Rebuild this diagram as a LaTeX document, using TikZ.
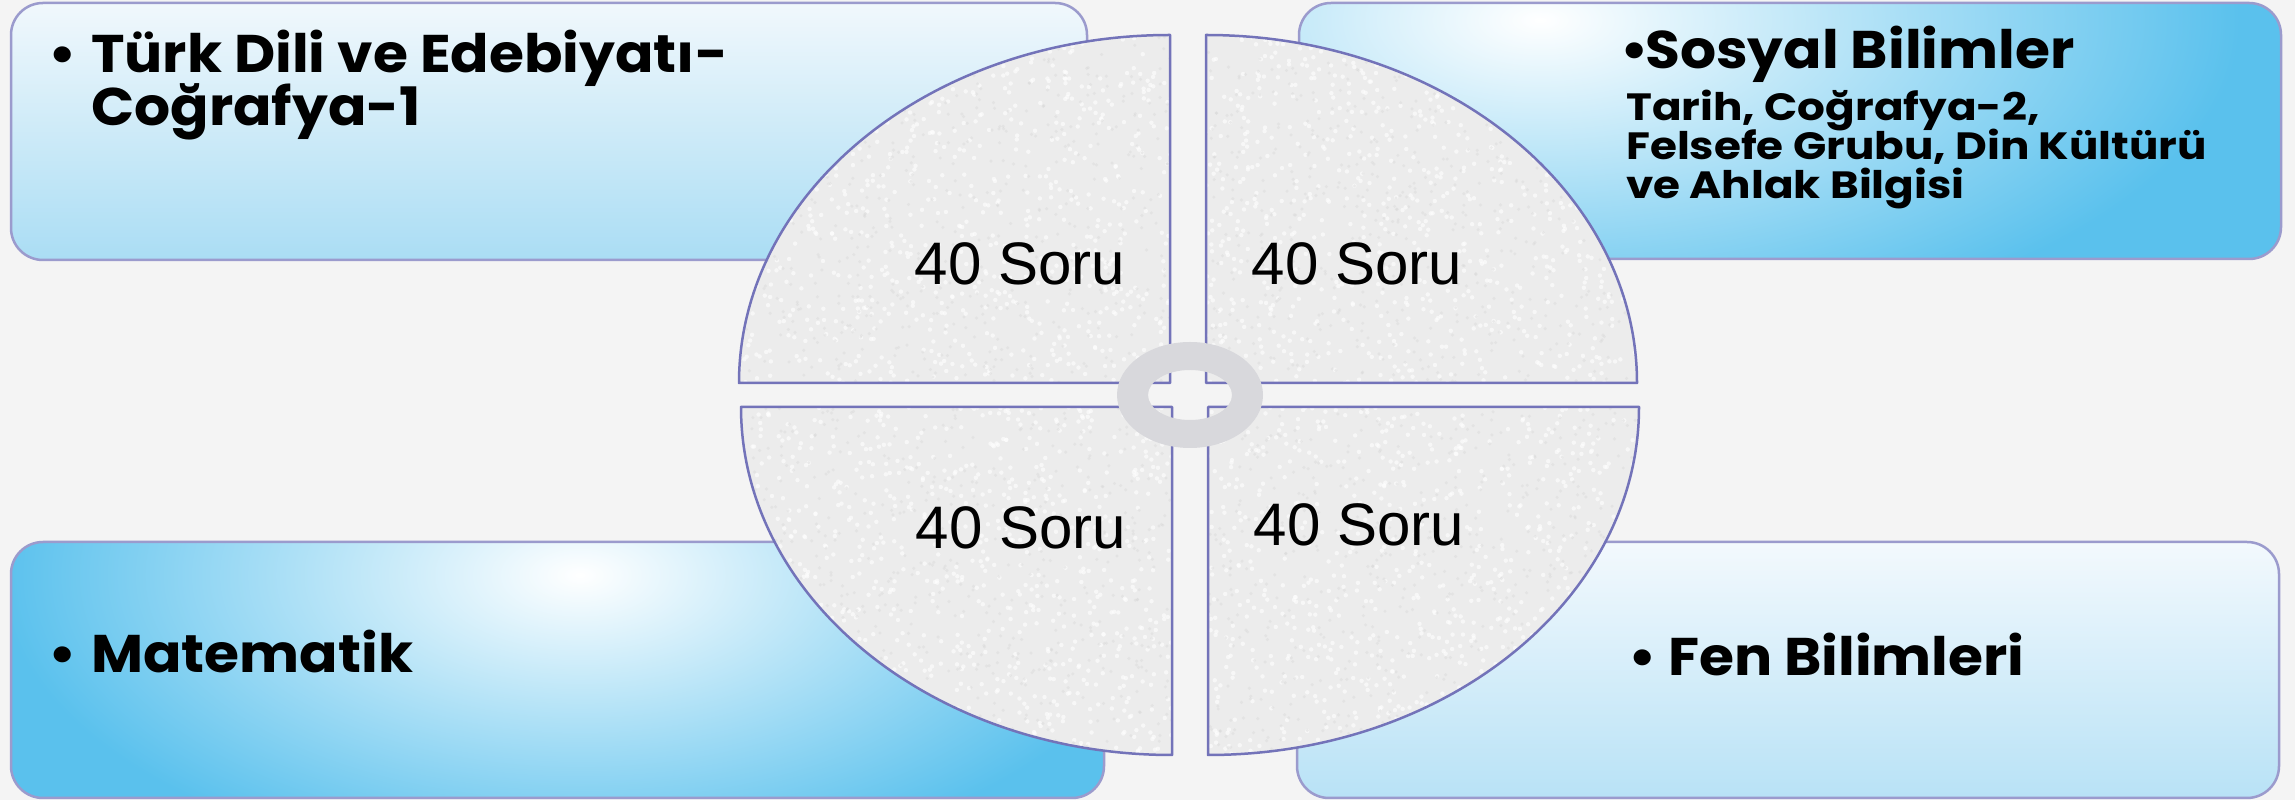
\documentclass[tikz,border=0pt]{standalone}
\usepackage{fontspec}
\setmainfont{Liberation Sans}
\newfontfamily\boxfont[FakeStretch=1.07]{Poppins}
\newfontfamily\smallboxfont[FakeStretch=1.15]{Poppins}
\definecolor{bgc}{RGB}{244,244,244}
\definecolor{boxline}{RGB}{155,155,205}
\definecolor{quadline}{RGB}{115,115,185}
\definecolor{quadfill}{RGB}{236,236,236}
\definecolor{ringc}{RGB}{216,216,220}
\definecolor{tltop}{RGB}{241,248,252}
\definecolor{tlbot}{RGB}{170,221,244}
\definecolor{brtop}{RGB}{243,249,253}
\definecolor{brbot}{RGB}{184,226,246}
\definecolor{deepblue}{RGB}{90,193,237}
\begin{document}
\begin{tikzpicture}[x=1pt,y=1pt,
  box/.style={draw=boxline,line width=2.5pt,rounded corners=32pt},
  quad/.style={draw=quadline,line width=2.5pt,line join=round},
  soru/.style={font=\fontsize{60}{60}\selectfont,anchor=base,inner sep=0pt},
  bigtxt/.style={font=\boxfont\bfseries\fontsize{53}{53}\selectfont,anchor=base west,inner sep=0pt},
  smalltxt/.style={font=\smallboxfont\bfseries\fontsize{38}{39}\selectfont,anchor=base west,inner sep=0pt}]
\useasboundingbox (0,0) rectangle (2295,800);
\fill[bgc] (0,0) rectangle (2295,800);
% top-left box
\path[top color=tltop,bottom color=tlbot,rounded corners=32pt] (11,540) rectangle (1087,797);
\draw[box] (11,540) rectangle (1087,797);
% top-right box
\begin{scope}
\clip[rounded corners=32pt] (1299,541) rectangle (2281,797);
\fill[deepblue] (1299,541) rectangle (2281,797);
\shade[inner color=white,outer color=deepblue] (1540,780) ellipse [x radius=700, y radius=330];
\end{scope}
\draw[box] (1299,541) rectangle (2281,797);
% bottom-left box
\begin{scope}
\clip[rounded corners=32pt] (11,2) rectangle (1104,258);
\fill[deepblue] (11,2) rectangle (1104,258);
\shade[inner color=white,outer color=deepblue] (580,225) ellipse [x radius=580, y radius=300];
\end{scope}
\draw[box] (11,2) rectangle (1104,258);
% bottom-right box
\path[top color=brtop,bottom color=brbot,rounded corners=32pt] (1297,2) rectangle (2279,258);
\draw[box] (1297,2) rectangle (2279,258);
% pie quadrants: fill with speckle texture
\begin{scope}
\clip (1170,417) -- (739,417) arc[start angle=180,end angle=90,x radius=431,y radius=348] -- cycle
      (1206,417) -- (1206,765) arc[start angle=90,end angle=0,x radius=431,y radius=348] -- cycle
      (1172,393) -- (741,393) arc[start angle=180,end angle=270,x radius=431,y radius=348] -- cycle
      (1208,393) -- (1639,393) arc[start angle=0,end angle=-90,x radius=431,y radius=348] -- cycle;
\fill[quadfill] (730,40) rectangle (1650,770);
\pgfmathsetseed{7}
\foreach \i in {1,...,3500}{
  \pgfmathsetmacro\xx{735+910*rnd}
  \pgfmathsetmacro\yy{40+730*rnd}
  \fill[white,opacity=0.6] (\xx,\yy) circle (2.2);
}
\foreach \i in {1,...,2500}{
  \pgfmathsetmacro\xx{735+910*rnd}
  \pgfmathsetmacro\yy{40+730*rnd}
  \fill[black!16,opacity=0.4] (\xx,\yy) circle (1.7);
}
\end{scope}
\draw[quad] (1170,417) -- (739,417) arc[start angle=180,end angle=90,x radius=431,y radius=348] -- cycle;
\draw[quad] (1206,417) -- (1206,765) arc[start angle=90,end angle=0,x radius=431,y radius=348] -- cycle;
\draw[quad] (1172,393) -- (741,393) arc[start angle=180,end angle=270,x radius=431,y radius=348] -- cycle;
\draw[quad] (1208,393) -- (1639,393) arc[start angle=0,end angle=-90,x radius=431,y radius=348] -- cycle;
% ring
\fill[ringc,even odd rule] (1190,405) ellipse [x radius=73,y radius=53] (1190,405) ellipse [x radius=42,y radius=25];
% 40 Soru labels
\node[soru] (s1) at (1020,515) {40 Soru};
\node[soru] (s2) at (1357,515) {40 Soru};
\node[soru] (s3) at (1021,251) {40 Soru};
\node[soru] (s4) at (1359,254) {40 Soru};
% box texts
\node[bigtxt] (tlb) at (48,727) {•};
\node[bigtxt] (tl1) at (91,727) {Türk Dili ve Edebiyatı-};
\node[bigtxt] (tl2) at (91,674) {Coğrafya-1};
\node[bigtxt] (trb) at (1620,731) {•};
\node[bigtxt] (tr1) at (1645,731) {Sosyal Bilimler};
\node[smalltxt] (tr2) at (1626,679) {Tarih, Coğrafya-2,};
\node[smalltxt] (tr3) at (1626,640) {Felsefe Grubu, Din Kültürü};
\node[smalltxt] (tr4) at (1626,601) {ve Ahlak Bilgisi};
\node[bigtxt] (blb) at (48,127) {•};
\node[bigtxt] (bl1) at (91,127) {Matematik};
\node[bigtxt] (brb) at (1628,124) {•};
\node[bigtxt] (br1) at (1668,124) {Fen Bilimleri};
\end{tikzpicture}
\end{document}
